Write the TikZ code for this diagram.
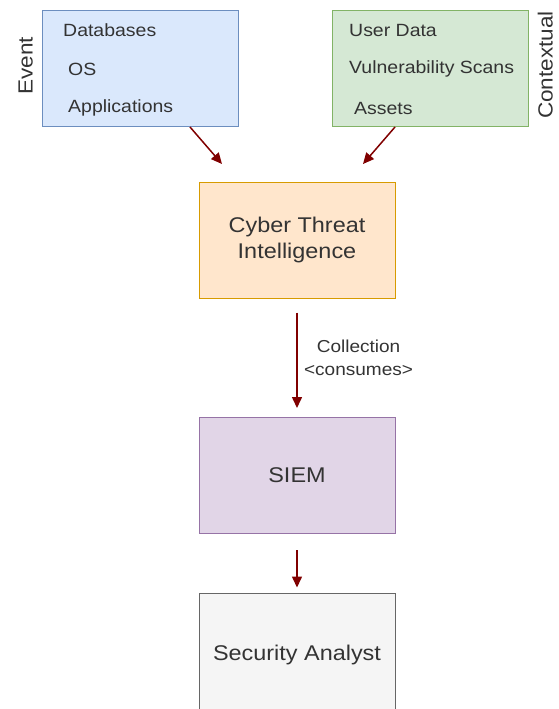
\documentclass[tikz,border=0pt]{standalone}
\usepackage{fontspec}
\setmainfont{Liberation Sans}[FakeStretch=1.1]
\usetikzlibrary{arrows.meta}
\definecolor{evfill}{HTML}{DAE8FC}
\definecolor{evline}{HTML}{6C8EBF}
\definecolor{cxfill}{HTML}{D5E8D4}
\definecolor{cxline}{HTML}{82B366}
\definecolor{ctifill}{HTML}{FFE6CC}
\definecolor{ctiline}{HTML}{D79B00}
\definecolor{siemfill}{HTML}{E1D5E7}
\definecolor{siemline}{HTML}{9673A6}
\definecolor{safill}{HTML}{F5F5F5}
\definecolor{saline}{HTML}{666666}
\definecolor{txtgray}{HTML}{333333}
\definecolor{arrred}{RGB}{128,0,0}

\begin{document}
\begin{tikzpicture}[x=1pt,y=-1pt,
  box/.style={draw,line width=1pt,minimum width=196pt,minimum height=116pt,inner sep=0pt,
    text=txtgray,font=\fontsize{21.3}{26}\selectfont,align=center},
  item/.style={anchor=west,inner sep=0pt,text=txtgray,font=\fontsize{17.7}{21}\selectfont},
  side/.style={rotate=90,anchor=south,inner sep=0pt,text=txtgray,font=\fontsize{20.5}{26}\selectfont},
  flow/.style={draw=arrred,line width=1.5pt,-{Triangle[length=11pt,width=10pt]}}]
  \useasboundingbox (0,0) rectangle (558,709);
  % source boxes
  \node[box,fill=evfill,draw=evline] (ev) at (140,68.5) {};
  \node[box,fill=cxfill,draw=cxline] (cx) at (430,68.5) {};
  \node[item] (db) at (63,30) {Databases};
  \node[item] (os) at (68,69) {OS};
  \node[item] (app) at (68,108) {Applications};
  \node[item] (ud) at (349,30) {User Data};
  \node[item] (vs) at (349,69) {Vulnerability Scans};
  \node[item] (as) at (354,108) {Assets};
  \node[side] (evlab) at (33,66) {Event};
  \node[side] (cxlab) at (553,65) {Contextual};
  % chain
  \node[box,fill=ctifill,draw=ctiline] (cti) at (297,240) {Cyber Threat\\Intelligence};
  \node[box,fill=siemfill,draw=siemline] (siem) at (297,475.5) {SIEM};
  \node[box,fill=safill,draw=saline,minimum height=124pt] (sa) at (297,655) {Security Analyst};
  \coordinate (evout) at (190,127);
  \coordinate (evin) at (222,164);
  \coordinate (cxout) at (395,127);
  \coordinate (cxin) at (363,164);
  \draw[flow] (evout) -- (evin);
  \draw[flow] (cxout) -- (cxin);
  \draw[flow,shorten <=14pt,shorten >=9pt] (cti.south) -- (siem.north)
    node[midway,right=3pt,align=center,text=txtgray,font=\fontsize{17.3}{23}\selectfont] (coll) {Collection\\<consumes>};
  \draw[flow,shorten <=16pt,shorten >=5pt] (siem.south) -- (sa.north);
\end{tikzpicture}
\end{document}
